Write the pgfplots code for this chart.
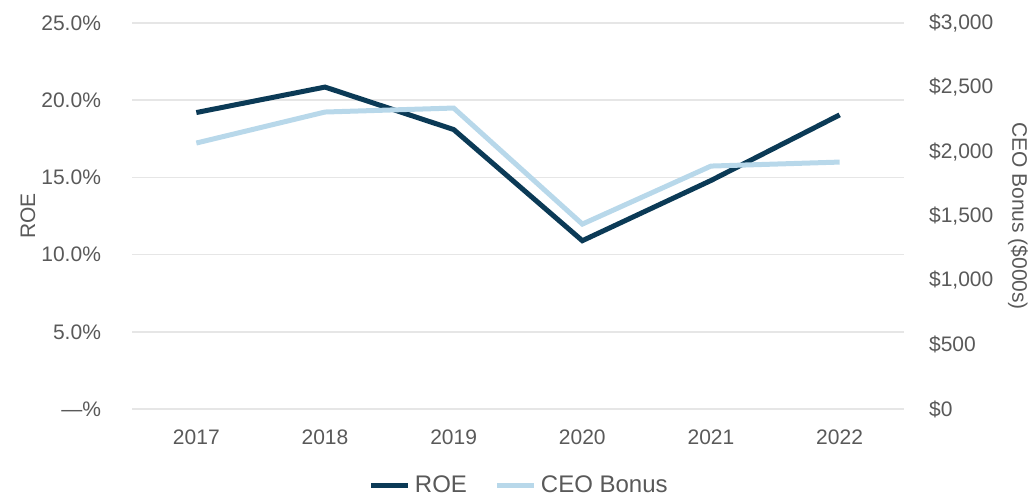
\documentclass[border=0pt]{standalone}
\usepackage{pgfplots}
\pgfplotsset{compat=1.18}
\usepackage{fontspec}
\setmainfont{Liberation Sans}
\definecolor{roe}{HTML}{0B3A56}
\definecolor{bonus}{HTML}{B8D8EA}
\definecolor{txt}{HTML}{595959}
\definecolor{gridc}{HTML}{E6E6E6}
\begin{document}
\begin{tikzpicture}
\path[use as bounding box] (0,0) rectangle (514pt,250.5pt);
\pgfplotsset{
  base/.style={
    scale only axis, width=386pt, height=193pt,
    at={(66pt,46pt)}, anchor=south west,
    xmin=2016.5, xmax=2022.5,
    major tick length=0pt,
    tick label style={font=\fontsize{10.5}{12}\selectfont, text=txt},
    label style={font=\fontsize{10.5}{12}\selectfont, text=txt},
  }
}
\begin{axis}[base,
    axis line style={draw=none},
    ymin=0, ymax=25,
    ytick={0,5,10,15,20,25},
    yticklabels={—\%,5.0\%,10.0\%,15.0\%,20.0\%,25.0\%},
    ymajorgrids, grid style={gridc, line width=0.8pt},
    xtick={2017,...,2022},
    xticklabels={2017,2018,2019,2020,2021,2022},
    xticklabel style={yshift=-7pt},
    yticklabel style={xshift=-12pt},
    ylabel={ROE},
    ylabel style={at={(axis description cs:-0.135,0.5)}, anchor=center},
]
\addplot[roe, line width=2.5pt] coordinates {
  (2017,19.2) (2018,20.85) (2019,18.1) (2020,10.9) (2021,14.8) (2022,19.05)
};
\end{axis}
\begin{axis}[base,
    axis line style={draw=none},
    axis y line*=right, axis x line=none,
    ymin=0, ymax=3000,
    ytick={0,500,1000,1500,2000,2500,3000},
    yticklabels={\$0,\$500,{\$1,000},{\$1,500},{\$2,000},{\$2,500},{\$3,000}},
    yticklabel style={xshift=9pt},
    ylabel={CEO Bonus (\$000s)},
    ylabel style={at={(axis description cs:1.1477,0.5)}, anchor=center, rotate=180},
    legend style={draw=none, fill=none, legend columns=2,
      at={(axis description cs:0.503,-0.198)}, anchor=center,
      font=\fontsize{12}{14}\selectfont, text=txt,
      /tikz/every even column/.append style={column sep=12pt}},
    legend image code/.code={\draw[#1] (0cm,0cm) -- (0.65cm,0cm);},
]
\addlegendimage{roe, line width=2.5pt}
\addlegendentry{ROE}
\addplot[bonus, line width=2.5pt] coordinates {
  (2017,2067) (2018,2308) (2019,2339) (2020,1437) (2021,1888) (2022,1919)
};
\addlegendentry{CEO Bonus}
\end{axis}
\end{tikzpicture}
\end{document}
